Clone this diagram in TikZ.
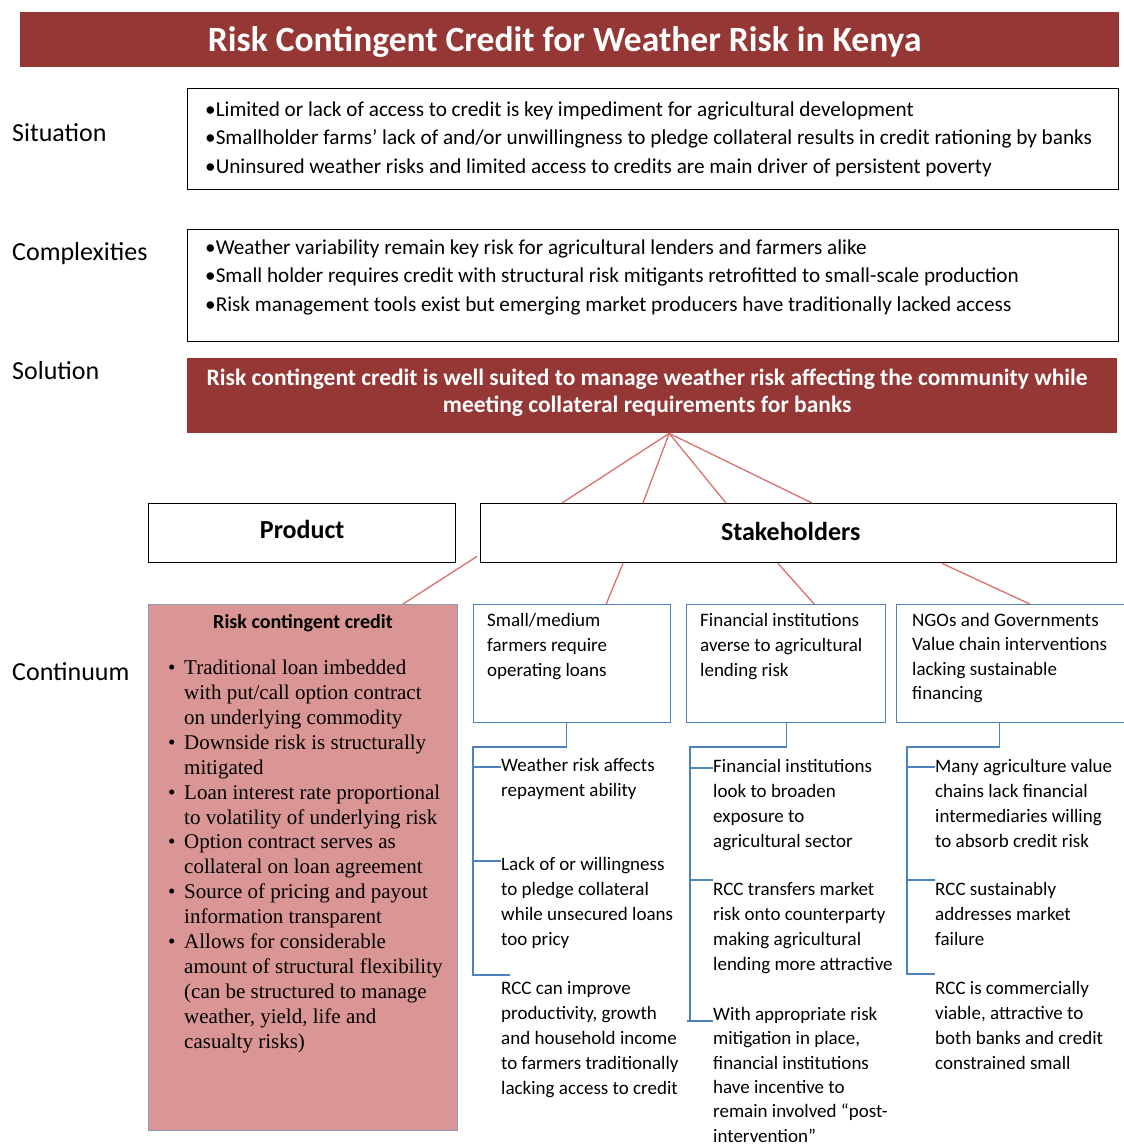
\documentclass[tikz,border=0pt]{standalone}
\usepackage{fontspec}
\setmainfont{Carlito}
\newfontfamily\rccserif{Liberation Serif}
\usepackage{tikz}
\usetikzlibrary{calc}
\definecolor{titlered}{HTML}{953735}
\definecolor{rccpink}{HTML}{D99694}
\definecolor{linkred}{HTML}{D9716F}
\definecolor{stakeblue}{HTML}{4F81BD}
\definecolor{rccedge}{HTML}{8C96B8}
\tikzstyle{rowlabel} = [anchor=base west, inner sep=0pt, font=\fontsize{26}{30}\selectfont]
\tikzstyle{redbar} = [fill=titlered, anchor=north west, inner sep=0pt]
\tikzstyle{bartext} = [inner sep=0pt, text=white, align=center]
\tikzstyle{textbox} = [draw=black, line width=1.3pt, anchor=north west, inner sep=0pt]
\tikzstyle{bulletlines} = [anchor=north west, inner sep=0pt, align=left, font=\fontsize{21.2}{28.5}\selectfont]
\tikzstyle{headbox} = [draw=black, line width=1.4pt, anchor=north west, inner sep=0pt]
\tikzstyle{headtext} = [inner sep=0pt, font=\bfseries\fontsize{26}{30}\selectfont]
\tikzstyle{stakebox} = [draw=stakeblue, line width=1.4pt, anchor=north west, inner sep=0pt]
\tikzstyle{colitem} = [anchor=north west, inner sep=0pt, align=left, font=\fontsize{19}{25}\selectfont]
\tikzstyle{link} = [draw=linkred, line width=1.3pt]
\tikzstyle{bracket} = [draw=stakeblue, line width=1.3pt]
\newcommand{\rccbul}{\makebox[16pt][l]{\textbullet}}
\newcommand{\rccind}{\hspace*{16pt}}

\begin{document}
\begin{tikzpicture}[x=1pt,y=-1pt]
			\fill[white] (0,0) rectangle (1124,1144);
			\useasboundingbox (0,0) rectangle (1124,1144);
			\node[redbar, minimum width=1099, minimum height=55] (title) at (20,12) {};
			\node[bartext, font=\bfseries\fontsize{35.5}{40}\selectfont] (titletext) at ([xshift=-5pt,yshift=-2pt]title.center) {Risk Contingent Credit for Weather Risk in Kenya};
			\node[rowlabel] (lblsit) at (12,141) {Situation};
			\node[rowlabel] (lblcomp) at (12,260) {Complexities};
			\node[rowlabel] (lblsol) at (12,379) {Solution};
			\node[rowlabel] (lblcont) at (12,680) {Continuum};
			\node[textbox, minimum width=931, minimum height=101] (situation) at (187,88) {};
			\node[bulletlines] (sittext) at (205,96) {\strut•Limited or lack of access to credit is key impediment for agricultural development\\•Smallholder farms’ lack of and/or unwillingness to pledge collateral results in credit rationing by banks\\•Uninsured weather risks and limited access to credits are main driver of persistent poverty};
			\node[textbox, minimum width=931, minimum height=112] (complex) at (187,229) {};
			\node[bulletlines] (comptext) at (205,234) {\strut•Weather variability remain key risk for agricultural lenders and farmers alike\\•Small holder requires credit with structural risk mitigants retrofitted to small-scale production\\•Risk management tools exist but emerging market producers have traditionally lacked access};
			\node[redbar, minimum width=930, minimum height=75] (solution) at (187,358) {};
			\node[bartext, font=\bfseries\fontsize{23.5}{27}\selectfont] (soltext) at ([xshift=-5pt,yshift=3pt]solution.center) {Risk contingent credit is well suited to manage weather risk affecting the community while\\meeting collateral requirements for banks};
			\node[headbox, minimum width=307, minimum height=59] (product) at (148,503) {};
			\node[headtext] at ([yshift=4pt]product.center) {Product};
			\node[headbox, minimum width=636, minimum height=59] (stake) at (480,503) {};
			\node[headtext] at ([xshift=-8pt,yshift=2pt]stake.center) {Stakeholders};
			\coordinate (apex) at ([xshift=17pt]solution.south);
			\draw[link] (apex) -- ([xshift=82pt]stake.north west);
			\draw[link] (apex) -- ([xshift=163pt]stake.north west);
			\draw[link] (apex) -- ([xshift=246pt]stake.north west);
			\draw[link] (apex) -- ([xshift=332pt]stake.north west);
			\node[fill=rccpink, draw=rccedge, line width=1pt, anchor=north west, inner sep=0pt, minimum width=309, minimum height=526] (rcc) at (148,604) {};
			\node[anchor=base, inner sep=0pt, font=\bfseries\fontsize{20}{24}\selectfont] (rcctitle) at (303,628) {Risk contingent credit};
			\node[anchor=north west, inner sep=0pt, align=left, font=\rccserif\fontsize{21}{24.9}\selectfont] (rcctext) at (168,657) {\strut\rccbul Traditional loan imbedded\\\rccind with put/call option contract\\\rccind on underlying commodity\\\rccbul Downside risk is structurally\\\rccind mitigated\\\rccbul Loan interest rate proportional\\\rccind to volatility of underlying risk\\\rccbul Option contract serves as\\\rccind collateral on loan agreement\\\rccbul Source of pricing and payout\\\rccind information transparent\\\rccbul Allows for considerable\\\rccind amount of structural flexibility\\\rccind (can be structured to manage\\\rccind weather, yield, life and\\\rccind casualty risks)};
			\node[stakebox, minimum width=197, minimum height=118] (farmers) at (473,604) {};
			\node[colitem] (farmerstext) at (487,609) {\strut Small/medium\\farmers require\\operating loans};
			\node[stakebox, minimum width=199, minimum height=118] (finance) at (686,604) {};
			\node[colitem] (financetext) at (700,609) {\strut Financial institutions\\averse to agricultural\\lending risk};
			\node[stakebox, minimum width=240, minimum height=118] (ngo) at (896,604) {};
			\node[colitem, font=\fontsize{19}{24.5}\selectfont] (ngotext) at (912,609) {\strut NGOs and Governments\\Value chain interventions\\lacking sustainable\\financing};
			\draw[link] ([xshift=-3pt,yshift=7pt]stake.south west) -- ([xshift=100pt]rcc.north);
			\draw[link] ([xshift=143pt]stake.south west) -- ([xshift=34pt]farmers.north);
			\draw[link] ([xshift=298pt]stake.south west) -- ([xshift=28pt]finance.north);
			\draw[link] ([xshift=462pt]stake.south west) -- ([xshift=13pt]ngo.north);
			\node[colitem] (a1) at (501,754) {\strut Weather risk affects\\repayment ability};
			\node[colitem] (a2) at (501,853) {\strut Lack of or willingness\\to pledge collateral\\while unsecured loans\\too pricy};
			\node[colitem] (a3) at (501,977) {\strut RCC can improve\\productivity, growth\\and household income\\to farmers traditionally\\lacking access to credit};
			\coordinate (aTop) at (473,747);
			\coordinate (aBot) at (473,975);
			\draw[bracket] ([xshift=-6pt]farmers.south) |- (aTop) -- (aBot) -- ++(37,0);
			\draw[bracket] ($(a1.north west)+(0,13)$) -- ++(-28,0);
			\draw[bracket] ($(a2.north west)+(0,8)$) -- ++(-28,0);
			\node[colitem] (b1) at (713,755) {\strut Financial institutions\\look to broaden\\exposure to\\agricultural sector};
			\node[colitem] (b2) at (713,878) {\strut RCC transfers market\\risk onto counterparty\\making agricultural\\lending more attractive};
			\node[colitem, font=\fontsize{19}{24.4}\selectfont] (b3) at (713,1003) {\strut With appropriate risk\\mitigation in place,\\financial institutions\\have incentive to\\remain involved “post-\\intervention”};
			\coordinate (bTop) at (690,747);
			\coordinate (bBot) at (690,1021);
			\draw[bracket] (finance.south) |- (bTop) -- (bBot);
			\draw[bracket] ($(b1.north west)+(0,13)$) -- ++(-23,0);
			\draw[bracket] ($(b2.north west)+(0,2)$) -- ++(-23,0);
			\draw[bracket] ($(b3.north west)+(0,18)$) -- ++(-26,0);
			\node[colitem] (c1) at (935,755) {\strut Many agriculture value\\chains lack financial\\intermediaries willing\\to absorb credit risk};
			\node[colitem] (c2) at (935,878) {\strut RCC sustainably\\addresses market\\failure};
			\node[colitem] (c3) at (935,977) {\strut RCC is commercially\\viable, attractive to\\both banks and credit\\constrained small};
			\coordinate (cTop) at (907,747);
			\coordinate (cBot) at (907,974);
			\draw[bracket] ([xshift=-17pt]ngo.south) |- (cTop) -- (cBot) -- ++(28,0);
			\draw[bracket] ($(c1.north west)+(0,12)$) -- ++(-28,0);
			\draw[bracket] ($(c2.north west)+(0,2)$) -- ++(-28,0);
		\end{tikzpicture}
\end{document}
